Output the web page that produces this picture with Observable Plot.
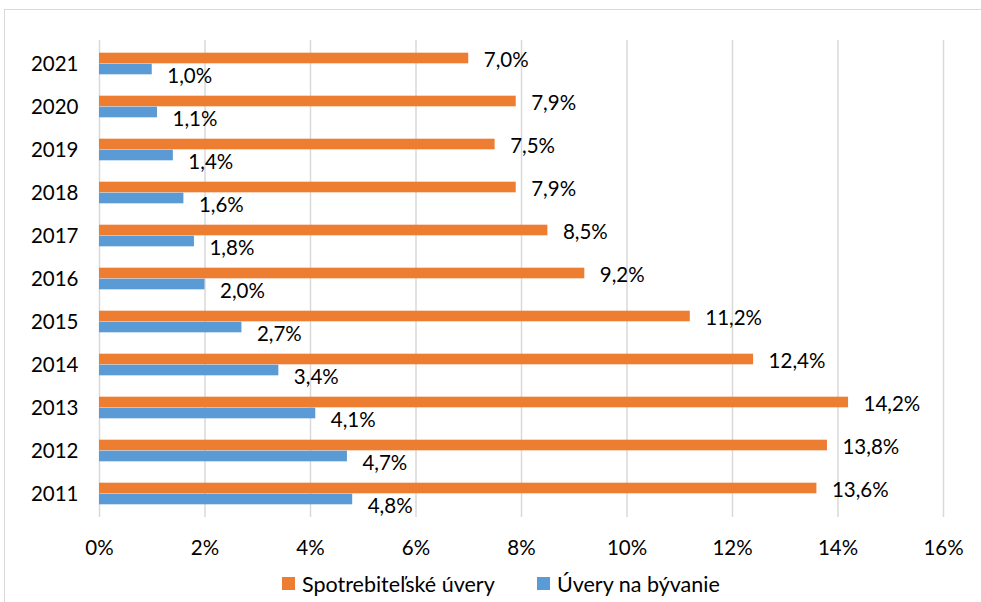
<!DOCTYPE html>
<html><head><meta charset="utf-8">
<script src="https://cdn.jsdelivr.net/npm/d3@7"></script>
<script src="https://cdn.jsdelivr.net/npm/@observablehq/plot@0.6"></script>
<style>
body{margin:0;background:#fff;font-family:Lato, sans-serif;overflow:hidden;}
#wrap{position:relative;width:981px;height:602px;overflow:hidden;}
#frame{position:absolute;left:4px;top:9px;width:1100px;height:800px;border:1px solid #d9d9d9;box-sizing:border-box;pointer-events:none;}
#chart{position:absolute;left:0;top:0;}
#legend{position:absolute;left:0;top:565px;width:981px;height:37px;}
.item{position:absolute;top:0;height:37px;display:flex;align-items:center;font-size:21.5px;color:#000;}
.sw{width:13px;height:13px;margin-right:7px;}
</style>
</head><body>
<div id="wrap">
<div id="chart"></div>
<div id="legend"></div>
<div id="frame"></div>
</div>
<script>
const years = [2011, 2012, 2013, 2014, 2015, 2016, 2017, 2018, 2019, 2020, 2021];
const consumer = [13.6, 13.8, 14.2, 12.4, 11.2, 9.2, 8.5, 7.9, 7.5, 7.9, 7.0];
const housing = [4.8, 4.7, 4.1, 3.4, 2.7, 2.0, 1.8, 1.6, 1.4, 1.1, 1.0];
const xTicks = [0, 2, 4, 6, 8, 10, 12, 14, 16];
const seriesNames = ["Spotrebiteľské úvery", "Úvery na bývanie"];
const colors = ["#ED7D31", "#5B9BD5"];

const rows = years.map((y, i) => ({year: String(y), consumer: consumer[i], housing: housing[i]}));
const fmt = v => v.toFixed(1).replace(".", ",") + "%";

const W = 981, H = 565, mt = 40, mb = 48;
const step = (H - mt - mb) / years.length;
const barH = 11;
const half = step / 2;

const chart = Plot.plot({
  width: W, height: H,
  marginTop: mt, marginBottom: mb, marginLeft: 99, marginRight: 38,
  style: {fontFamily: "Lato, sans-serif", fontSize: "20.5px", color: "#000", background: "transparent"},
  x: {domain: [0, 16], ticks: xTicks, tickFormat: d => d + "%", label: null},
  y: {type: "band", domain: years.map(String).reverse(), padding: 0, label: null},
  marks: [
    Plot.gridX(xTicks, {stroke: "#d9d9d9", strokeOpacity: 1, strokeWidth: 1.5}),
    Plot.barX(rows, {x: "consumer", y: "year", fill: colors[0], insetTop: half - barH, insetBottom: half}),
    Plot.barX(rows, {x: "housing", y: "year", fill: colors[1], insetTop: half, insetBottom: half - barH}),
    Plot.text(rows, {x: "consumer", y: "year", text: d => fmt(d.consumer), textAnchor: "start", dx: 15, dy: -4, fill: "#000"}),
    Plot.text(rows, {x: "housing", y: "year", text: d => fmt(d.housing), textAnchor: "start", dx: 15, dy: 12, fill: "#000"}),
    Plot.axisX({ticks: xTicks, tickSize: 0, tickPadding: 23, tickFormat: d => d + "%", label: null}),
    Plot.axisY({tickSize: 0, tickPadding: 21, label: null})
  ]
});
document.getElementById("chart").appendChild(chart);

const lg = document.getElementById("legend");
const lefts = [282, 537];
seriesNames.forEach((n, i) => {
  const it = document.createElement("div");
  it.className = "item";
  it.style.left = lefts[i] + "px";
  it.innerHTML = `<span class="sw" style="background:${colors[i]}"></span><span>${n}</span>`;
  lg.appendChild(it);
});
</script>
</body></html>
